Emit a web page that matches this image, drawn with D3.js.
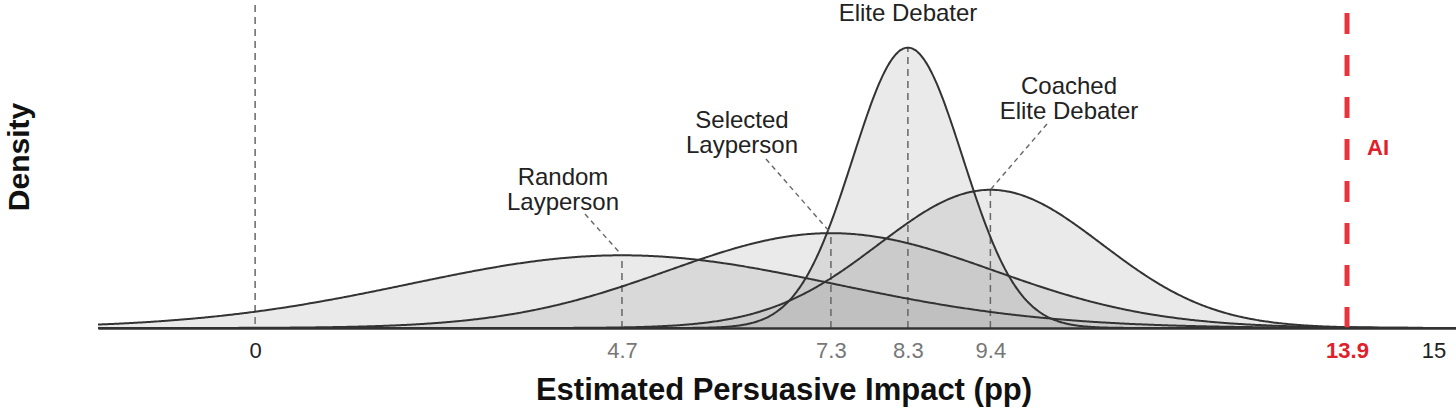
<!DOCTYPE html>
<html>
<head>
<meta charset="utf-8">
<script src="https://cdn.jsdelivr.net/npm/d3@7"></script>
<style>
  html, body { margin: 0; padding: 0; background: #fff; }
  svg { display: block; font-family: "Liberation Sans", Arial, Helvetica, sans-serif; }
</style>
</head>
<body>
<svg id="chart" width="1456" height="415"></svg>
<script>
// groups (mean and spread of each density curve)
const groups = ['Random Layperson', 'Selected Layperson', 'Elite Debater', 'Coached Elite Debater'];
const means = [4.67, 7.33, 8.31, 9.36];
const sds = [2.7, 2.07, 0.7, 1.42];

const aiValue = 13.9;
const zeroValue = 0;
const tickValues = [0, 4.67, 7.33, 8.31, 9.36, 13.9, 15];

const baseY = 328;

const svg = d3.select('#chart');

const x = d3.scaleLinear().domain([-2, 15.3]).range([98, 1457]);
const y = d3.scaleLinear().domain([0, 0.6]).range([baseY, baseY - 0.6 * 492]);

const pdf = (v, m, s) => Math.exp(-0.5 * ((v - m) / s) ** 2) / (s * Math.sqrt(2 * Math.PI));
const xs = d3.range(-2, 15.3001, 0.02);

const curves = groups.map((g, i) => ({
  name: g,
  mean: means[i],
  sd: sds[i],
  pts: xs.map(v => [v, pdf(v, means[i], sds[i])])
}));

const area = d3.area().x(d => x(d[0])).y0(y(0)).y1(d => y(d[1])).curve(d3.curveBasis);
const line = d3.line().x(d => x(d[0])).y(d => y(d[1])).curve(d3.curveBasis);

// zero reference line
svg.append('line')
  .attr('x1', x(zeroValue)).attr('x2', x(zeroValue))
  .attr('y1', 5).attr('y2', baseY)
  .attr('stroke', '#666').attr('stroke-width', 1.5).attr('stroke-dasharray', '7,5');

// fills
svg.append('g').selectAll('path.fill').data(curves).join('path')
  .classed('fill', true)
  .attr('d', d => area(d.pts))
  .attr('fill', 'rgba(150,150,150,0.2)');

// mean lines
svg.append('g').selectAll('line.mean').data(curves).join('line')
  .classed('mean', true)
  .attr('x1', d => x(d.mean)).attr('x2', d => x(d.mean))
  .attr('y1', baseY).attr('y2', d => y(pdf(d.mean, d.mean, d.sd)))
  .attr('stroke', '#666').attr('stroke-width', 1.5).attr('stroke-dasharray', '7,5');

// outlines
svg.append('g').selectAll('path.outline').data(curves).join('path')
  .classed('outline', true)
  .attr('d', d => line(d.pts))
  .attr('fill', 'none')
  .attr('stroke', '#333')
  .attr('stroke-width', 2);

// labels: text position and leader line start, in pixels
const labelLayout = {
  'Random Layperson': { tx: 563, ty: 185, lx: 585, ly: 214, lines: ['Random', 'Layperson'] },
  'Selected Layperson': { tx: 742, ty: 128, lx: 766, ly: 159, lines: ['Selected', 'Layperson'] },
  'Elite Debater': { tx: 908, ty: 21, lines: ['Elite Debater'] },
  'Coached Elite Debater': { tx: 1069, ty: 94, lx: 1047, ly: 124, lines: ['Coached', 'Elite Debater'] }
};

curves.forEach(c => {
  const lay = labelLayout[c.name];
  const t = svg.append('text')
    .attr('x', lay.tx).attr('y', lay.ty)
    .attr('text-anchor', 'middle')
    .attr('font-size', 24)
    .attr('fill', '#222');
  lay.lines.forEach((l, i) => {
    t.append('tspan').attr('x', lay.tx).attr('dy', i === 0 ? 0 : 24.5).text(l);
  });
  if (lay.lx !== undefined) {
    svg.append('line')
      .attr('x1', lay.lx).attr('y1', lay.ly)
      .attr('x2', x(c.mean)).attr('y2', y(pdf(c.mean, c.mean, c.sd)))
      .attr('stroke', '#666').attr('stroke-width', 1.4).attr('stroke-dasharray', '5,4');
  }
});

// AI line
svg.append('line')
  .attr('x1', x(aiValue)).attr('x2', x(aiValue))
  .attr('y1', 13).attr('y2', baseY)
  .attr('stroke', '#e8343c').attr('stroke-width', 5).attr('stroke-dasharray', '21,21');

svg.append('text')
  .attr('x', x(aiValue) + 20).attr('y', 155)
  .attr('font-size', 22).attr('font-weight', 'bold')
  .attr('fill', '#e0202a')
  .text('AI');

// x axis
const fmt = d3.format('.1f');
const axis = d3.axisBottom(x)
  .tickValues(tickValues)
  .tickSize(0)
  .tickFormat(d => (d === 0 || d === 15) ? d3.format('d')(d) : fmt(d));

const gx = svg.append('g').attr('transform', `translate(0,${baseY})`).call(axis);
gx.select('.domain').attr('stroke', '#333').attr('stroke-width', 2.5);
gx.selectAll('.tick text')
  .attr('y', 30).attr('dy', 0)
  .attr('font-size', 22)
  .attr('font-family', '"Liberation Sans", Arial, Helvetica, sans-serif')
  .attr('fill', d => d === aiValue ? '#e0202a' : (d === 0 || d === 15) ? '#222' : '#777')
  .attr('font-weight', d => d === aiValue ? 'bold' : 'normal');

// axis titles
svg.append('text')
  .attr('x', 784).attr('y', 400)
  .attr('text-anchor', 'middle')
  .attr('font-size', 31).attr('font-weight', 'bold')
  .attr('fill', '#111')
  .text('Estimated Persuasive Impact (pp)');

svg.append('text')
  .attr('transform', 'translate(29,157) rotate(-90)')
  .attr('text-anchor', 'middle')
  .attr('font-size', 30).attr('font-weight', 'bold')
  .attr('fill', '#111')
  .text('Density');
</script>
</body>
</html>
